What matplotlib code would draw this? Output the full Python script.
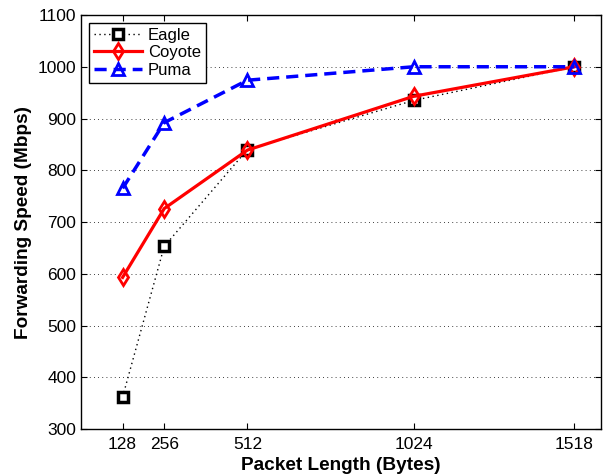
import matplotlib
matplotlib.use("Agg")
import matplotlib.pyplot as plt

plt.rcParams['font.family'] = ['Liberation Sans', 'DejaVu Sans']

# data
packet_len = [128, 256, 512, 1024, 1518]
eagle = [362, 653, 840, 935, 1000]
coyote = [593, 726, 839, 943, 1000]
puma = [765, 892, 974, 1000, 1000]
yticks = [300, 400, 500, 600, 700, 800, 900, 1000, 1100]

fig = plt.figure(figsize=(6.11, 4.75), dpi=100)
ax = fig.add_axes([0.1326, 0.0968, 0.851, 0.8716])

ax.plot(packet_len, eagle, color="black", linestyle=(0, (1, 2.5)), linewidth=1,
        marker="s", markersize=6.5, markerfacecolor="white",
        markeredgecolor="black", markeredgewidth=2.5, label="Eagle")
ax.plot(packet_len, coyote, color="red", linestyle="-", linewidth=2.3,
        marker="d", markersize=8.5, markerfacecolor="none",
        markeredgecolor="red", markeredgewidth=2, label="Coyote")
ax.plot(packet_len, puma, color="blue", linestyle=(0, (3.5, 2)), linewidth=2.5,
        marker="^", markersize=9, markerfacecolor="none",
        markeredgecolor="blue", markeredgewidth=2, label="Puma")

ax.set_xlim(0, 1600)
ax.set_ylim(300, 1100)
ax.set_xticks(packet_len)
ax.set_yticks(yticks)
ax.tick_params(direction="in", top=True, right=True, labelsize=12.5, length=4)
ax.tick_params(axis="x", pad=6)
ax.yaxis.grid(True, linestyle=(0, (1, 4)), color="black", linewidth=0.6)

ax.set_xlabel("Packet Length (Bytes)", fontsize=13.7, fontweight="bold", labelpad=3)
ax.set_ylabel("Forwarding Speed (Mbps)", fontsize=13.7, fontweight="bold", labelpad=4)

leg = ax.legend(loc="upper left", fontsize=12, fancybox=False, framealpha=1,
                edgecolor="black", handlelength=2.9, borderaxespad=0.45,
                labelspacing=0.15, handletextpad=0.35, borderpad=0.3)
leg.get_frame().set_linewidth(1)

for s in ax.spines.values():
    s.set_linewidth(1)

fig.savefig("out.png", dpi=100)
